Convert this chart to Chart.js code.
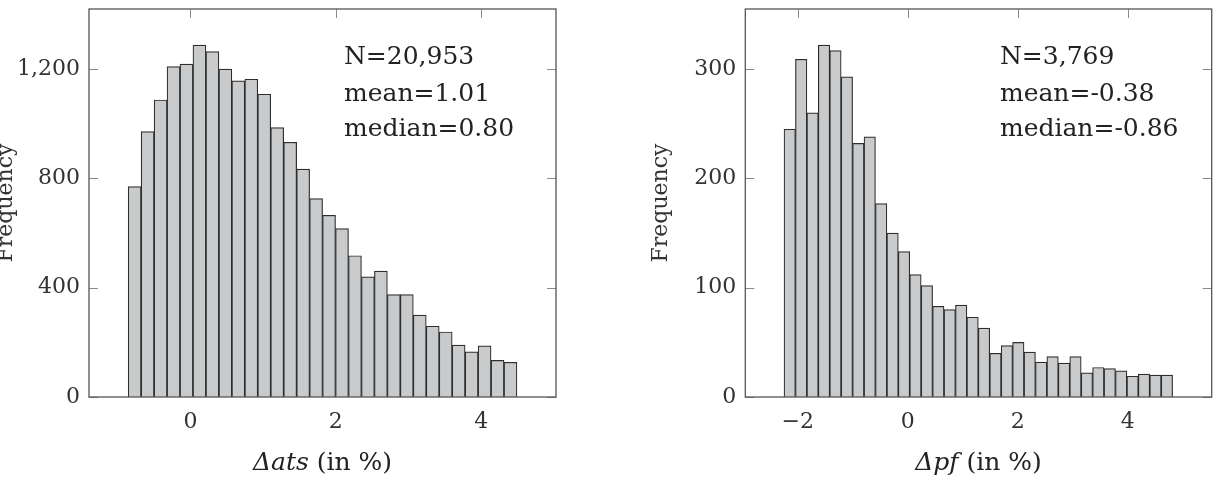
<!DOCTYPE html>
<html>
<head>
<meta charset="utf-8">
<script src="https://cdn.jsdelivr.net/npm/chart.js@4/dist/chart.umd.min.js"></script>
<style>
  body { margin: 0; background: #fff; width: 1215px; height: 479px; overflow: hidden; position: relative; }
  canvas { position: absolute; top: 0; }
  #left { left: -40px; }
  #right { left: 600px; }
</style>
</head>
<body>
<canvas id="left" width="620" height="479"></canvas>
<canvas id="right" width="615" height="479"></canvas>
<script>
// histogram of delta ats (30 bins)
const atsCounts = [770, 971, 1087, 1209, 1218, 1288, 1264, 1200, 1157, 1163, 1108, 986, 932, 834, 726,
                   665, 616, 517, 440, 461, 375, 375, 300, 259, 238, 190, 165, 187, 134, 127];
const atsBinStart = -0.856;
const atsBinWidth = 0.1783;
const atsTicks = [0, 2, 4];
const atsFreqTicks = [0, 400, 800, 1200];
const atsStats = ['N=20,953', 'mean=1.01', 'median=0.80'];

// histogram of delta pf (34 bins)
const pfCounts = [245, 309, 260, 322, 317, 293, 232, 238, 177, 150, 133, 112, 102, 83, 80, 84, 73,
                  63, 40, 47, 50, 41, 32, 37, 31, 37, 22, 27, 26, 24, 19, 21, 20, 20];
const pfBinStart = -2.249;
const pfBinWidth = 0.2078;
const pfTicks = [-2, 0, 2, 4];
const pfFreqTicks = [0, 100, 200, 300];
const pfStats = ['N=3,769', 'mean=-0.38', 'median=-0.86'];

const serif = '"DejaVu Serif", serif';
const textColor = '#333';

const fmt = v => v.toLocaleString('en-US').replace('-', '\u2212');

const framePlugin = {
  id: 'frame',
  beforeDatasetsDraw(chart) {
    const {ctx, chartArea: a, scales: {x, y}} = chart;
    ctx.save();
    ctx.strokeStyle = '#8a8a8a';
    ctx.lineWidth = 1;
    ctx.beginPath();
    x.ticks.forEach(t => {
      const px = Math.round(x.getPixelForValue(t.value)) + 0.5;
      ctx.moveTo(px, a.bottom); ctx.lineTo(px, a.bottom - 9);
      ctx.moveTo(px, a.top); ctx.lineTo(px, a.top + 9);
    });
    y.ticks.forEach(t => {
      const py = Math.round(y.getPixelForValue(t.value)) + 0.5;
      ctx.moveTo(a.left, py); ctx.lineTo(a.left + 9, py);
      ctx.moveTo(a.right, py); ctx.lineTo(a.right - 9, py);
    });
    ctx.stroke();
    ctx.restore();
  },
  afterDatasetsDraw(chart, args, opts) {
    const {ctx, chartArea: a} = chart;
    ctx.save();
    ctx.strokeStyle = '#555';
    ctx.lineWidth = 1.3;
    ctx.strokeRect(a.left, a.top, a.right - a.left, a.bottom - a.top);

    // stats box
    ctx.fillStyle = '#222';
    ctx.font = '25px ' + serif;
    ctx.textBaseline = 'alphabetic';
    const tx = a.left + 0.546 * (a.right - a.left);
    [55, 91.5, 127].forEach((dy, i) => ctx.fillText(opts.stats[i], tx, a.top + dy));

    // x axis title: math part in italic
    const cx = (a.left + a.right) / 2;
    ctx.font = 'italic 25px ' + serif;
    const w1 = ctx.measureText(opts.math).width;
    ctx.font = '25px ' + serif;
    const w2 = ctx.measureText(opts.rest).width;
    let sx = cx - (w1 + w2) / 2;
    ctx.font = 'italic 25px ' + serif;
    ctx.fillText(opts.math, sx, 470);
    ctx.font = '25px ' + serif;
    ctx.fillText(opts.rest, sx + w1, 470);
    ctx.restore();
  }
};

function histogram(id, counts, binStart, binWidth, xMin, xMax, yMax, xTicks, yTicks, stats, math, padL, padR, yW) {
  const points = counts.map((c, i) => ({x: binStart + binWidth * (i + 0.5), y: c}));
  return new Chart(document.getElementById(id), {
    type: 'bar',
    data: {
      datasets: [{
        data: points,
        backgroundColor: '#c8cacc',
        borderColor: '#2e2e2e',
        borderWidth: 1.2,
        barPercentage: 1,
        categoryPercentage: 1
      }]
    },
    options: {
      responsive: false,
      animation: false,
      layout: {padding: {left: padL, right: padR, top: 9, bottom: 0}},
      plugins: {
        legend: {display: false},
        tooltip: {enabled: false},
        frame: {stats: stats, math: math, rest: ' (in %)'}
      },
      scales: {
        x: {
          type: 'linear',
          offset: false,
          min: xMin,
          max: xMax,
          grid: {display: false, drawTicks: false, offset: false},
          border: {display: false},
          ticks: {font: {family: serif, size: 22}, color: textColor, padding: 12, maxRotation: 0, autoSkip: false, callback: fmt},
          afterBuildTicks: s => { s.ticks = xTicks.map(v => ({value: v})); },
          afterFit: s => { s.height = 82; s.paddingLeft = 0; s.paddingRight = 0; }
        },
        y: {
          min: 0,
          max: yMax,
          grid: {display: false, drawTicks: false},
          border: {display: false},
          ticks: {font: {family: serif, size: 22}, color: textColor, padding: 9, callback: fmt},
          afterBuildTicks: s => { s.ticks = yTicks.map(v => ({value: v})); },
          afterFit: s => { s.width = yW; s.paddingTop = 0; s.paddingBottom = 0; },
          title: {display: true, text: 'Frequency', font: {family: serif, size: 22}, color: textColor, padding: 0}
        }
      }
    },
    plugins: [framePlugin]
  });
}

histogram('left', atsCounts, atsBinStart, atsBinWidth, -1.395, 5.03, 1420,
          atsTicks, atsFreqTicks, atsStats, '\u0394ats', 33.3, 24, 95.7);
histogram('right', pfCounts, pfBinStart, pfBinWidth, -2.953, 5.527, 355,
          pfTicks, pfFreqTicks, pfStats, '\u0394pf', 48.5, 3.3, 96.8);
</script>
</body>
</html>
